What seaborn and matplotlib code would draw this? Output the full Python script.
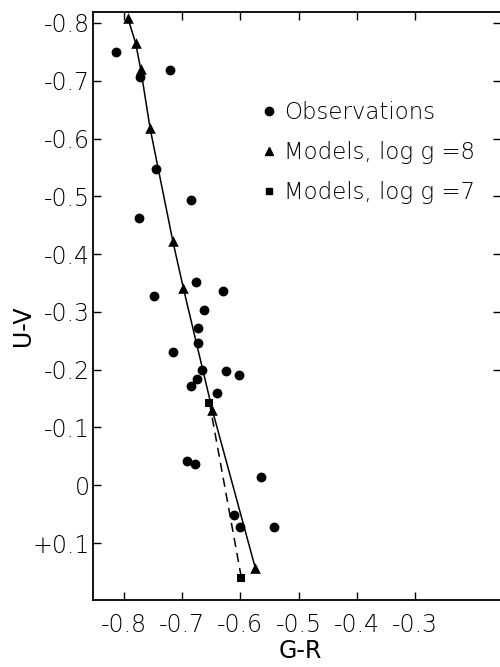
import matplotlib
matplotlib.use("Agg")
import matplotlib.pyplot as plt
from matplotlib.lines import Line2D
import seaborn as sns
import pandas as pd

# Observations (G-R, U-V)
obs_gr = [-0.814, -0.772, -0.720, -0.744, -0.685, -0.774, -0.748, -0.676, -0.630,
          -0.662, -0.673, -0.672, -0.716, -0.666, -0.625, -0.602, -0.675, -0.685,
          -0.640, -0.691, -0.677, -0.565, -0.610, -0.601, -0.543]
obs_uv = [-0.750, -0.707, -0.719, -0.547, -0.494, -0.462, -0.328, -0.351, -0.337,
          -0.304, -0.273, -0.247, -0.231, -0.199, -0.198, -0.191, -0.184, -0.171,
          -0.159, -0.042, -0.037, -0.014, 0.051, 0.073, 0.072]

# Models log g = 8
m8_gr = [-0.793, -0.780, -0.771, -0.755, -0.716, -0.698, -0.648, -0.574]
m8_uv = [-0.808, -0.766, -0.720, -0.618, -0.423, -0.342, -0.130, 0.144]

# Models log g = 7
m7_gr = [-0.653, -0.598]
m7_uv = [-0.143, 0.161]

x_ticks = [-0.8, -0.7, -0.6, -0.5, -0.4, -0.3]
x_labels = ["-0.8", "-0.7", "-0.6", "-0.5", "-0.4", "-0.3"]
y_ticks = [-0.8, -0.7, -0.6, -0.5, -0.4, -0.3, -0.2, -0.1, 0.0, 0.1]
y_labels = ["-0.8", "-0.7", "-0.6", "-0.5", "-0.4", "-0.3", "-0.2", "-0.1", "0", "+0.1"]
right_ticks = [-0.8, -0.7, -0.6, -0.5, -0.4, -0.3, -0.2]
legend_labels = ["Observations", "Models, log g =8", "Models, log g =7"]

sns.set_theme(style="white")
plt.rcParams['font.family'] = ['DejaVu Sans']
plt.rcParams['font.weight'] = 'light'
plt.rcParams['text.color'] = 'black'
plt.rcParams['axes.labelcolor'] = 'black'

fig = plt.figure(figsize=(5.0, 6.67), dpi=100)
ax = fig.add_axes([0.186, 0.1004, 0.814, 0.8816])

df_obs = pd.DataFrame({"gr": obs_gr, "uv": obs_uv})
df8 = pd.DataFrame({"gr": m8_gr, "uv": m8_uv})
df7 = pd.DataFrame({"gr": m7_gr, "uv": m7_uv})

sns.lineplot(data=df8, x="gr", y="uv", sort=False, color="black", lw=1.1, ax=ax)
sns.lineplot(data=df7, x="gr", y="uv", sort=False, color="black", lw=1.1, ax=ax,
             linestyle=(0, (6, 4)))
sns.scatterplot(data=df_obs, x="gr", y="uv", marker="o", s=50, color="black",
                edgecolor="black", linewidth=0, ax=ax, zorder=3)
sns.scatterplot(data=df8, x="gr", y="uv", marker="^", s=58, color="black",
                edgecolor="black", linewidth=0, ax=ax, zorder=3)
sns.scatterplot(data=df7, x="gr", y="uv", marker="s", s=36, color="black",
                edgecolor="black", linewidth=0, ax=ax, zorder=3)

ax.set_xlim(-0.853, -0.154)
ax.set_ylim(0.1986, -0.819)

ax.set_xticks(x_ticks)
ax.set_xticklabels(x_labels)
ax.set_yticks(y_ticks)
ax.set_yticklabels(y_labels)
ax.tick_params(axis="both", which="major", direction="in", length=6, width=1.0,
               labelsize=17, colors="black")
ax.tick_params(axis="x", top=True, bottom=True, pad=9)
ax.tick_params(axis="y", left=True, right=False, pad=2)

for side in ["left", "bottom", "top"]:
    ax.spines[side].set_color("black")
    ax.spines[side].set_linewidth(1.3)
ax.spines["right"].set_visible(False)

sec = ax.secondary_yaxis("right")
sec.set_yticks(right_ticks)
sec.set_yticklabels([])
sec.tick_params(direction="in", length=5, width=1.0, colors="black")
sec.spines["right"].set_visible(False)

ax.set_xlabel("G-R", fontsize=17, color="black")
ax.set_ylabel("U-V", fontsize=17, color="black")
ax.xaxis.set_label_coords(0.509, -0.066)
ax.yaxis.set_label_coords(-0.143, 0.466)

handles = [
    Line2D([], [], marker="o", color="black", linestyle="none", markersize=6),
    Line2D([], [], marker="^", color="black", linestyle="none", markersize=6),
    Line2D([], [], marker="s", color="black", linestyle="none", markersize=5),
]
ax.legend(handles, legend_labels, loc="upper left", bbox_to_anchor=(0.405, 0.848),
          frameon=False, fontsize=16.5, handletextpad=0.15, handlelength=1.0,
          labelspacing=0.74, borderaxespad=0, borderpad=0, labelcolor="black")

fig.savefig("out.png", dpi=100, facecolor="white")
